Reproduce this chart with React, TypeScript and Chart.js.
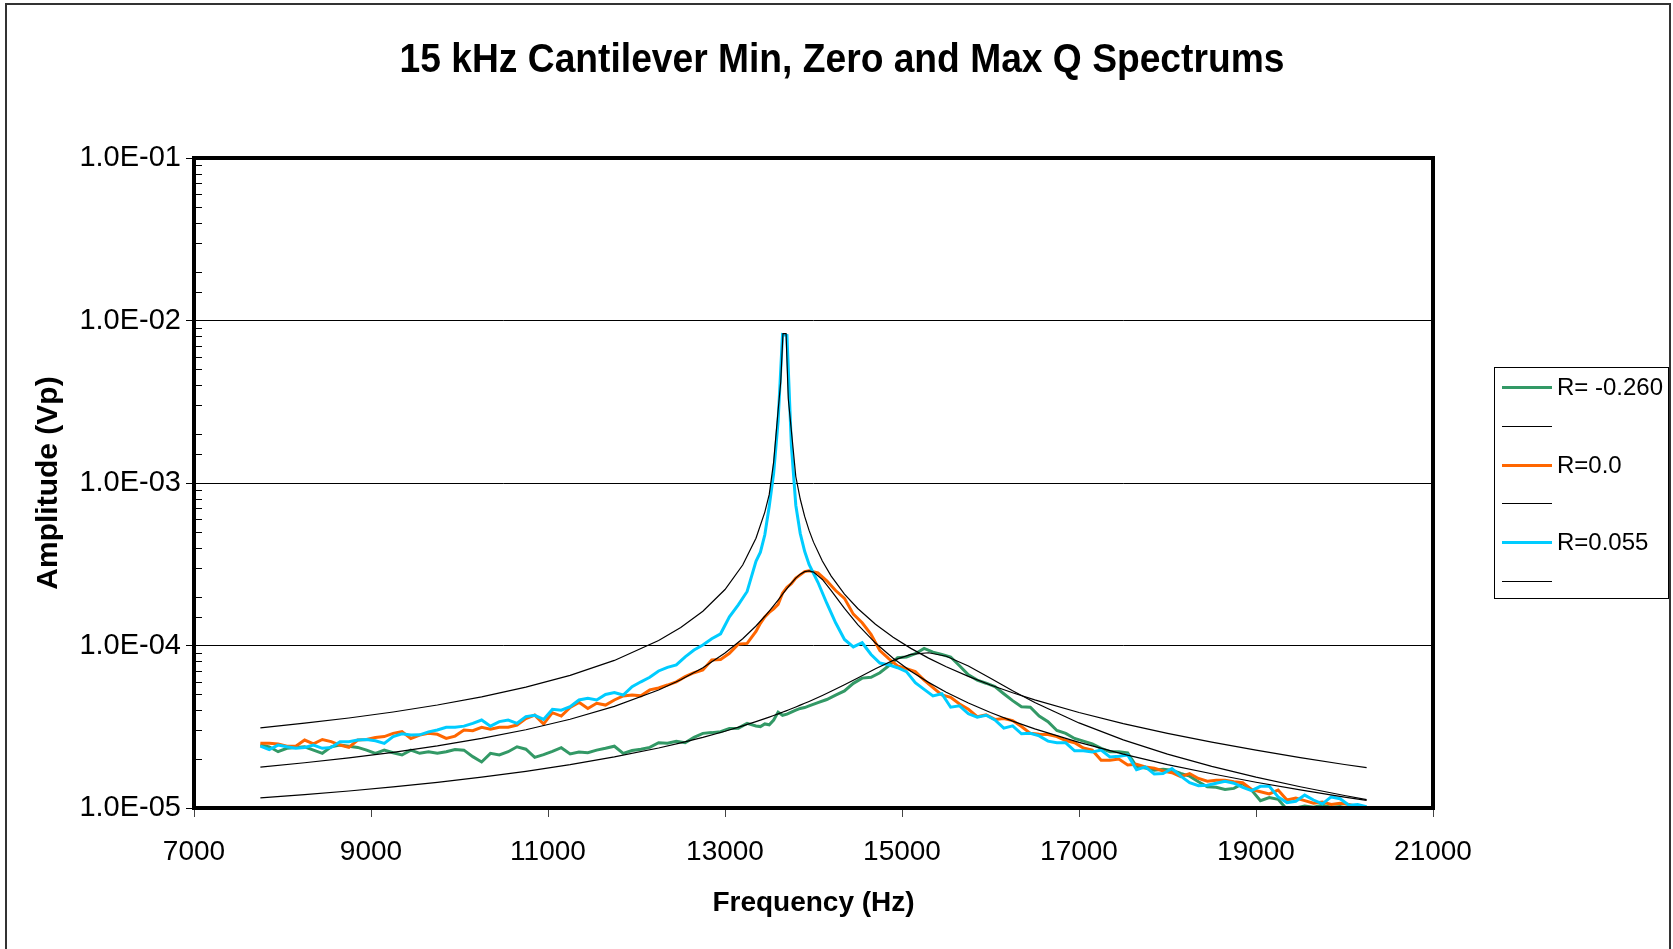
import React, { useEffect, useRef } from 'react';
import { Chart, registerables } from 'chart.js';

Chart.register(...registerables);

const FONT_FAMILY = "'Liberation Sans', Arial, Helvetica, sans-serif";

// ---- text ----
const chartTitle = '15 kHz Cantilever Min, Zero and Max Q Spectrums';
const xAxisTitle = 'Frequency (Hz)';
const yAxisTitle = 'Amplitude (Vp)';
const yTickLabels = ['1.0E-05', '1.0E-04', '1.0E-03', '1.0E-02', '1.0E-01'];
const seriesLabels = ['R= -0.260', 'R=0.0', 'R=0.055'];
const seriesColors = ['#339966', '#FF6600', '#00CCFF'];
const fitColor = '#000000';

// amplitudes below are in units of 1e-5 Vp
const AMP_UNIT = 1e-5;

// ---- measured spectra ----
const freqHz = [
  7750, 7850, 7950, 8050, 8150, 8250, 8350, 8450, 8550, 8650,
  8750, 8850, 8950, 9050, 9150, 9250, 9350, 9450, 9550, 9650,
  9750, 9850, 9950, 10050, 10150, 10250, 10350, 10450, 10550, 10650,
  10750, 10850, 10950, 11050, 11150, 11250, 11350, 11450, 11550, 11650,
  11750, 11850, 11950, 12050, 12150, 12250, 12350, 12450, 12550, 12650,
  12750, 12850, 12950, 13050, 13150, 13250, 13350, 13400, 13450, 13500,
  13550, 13600, 13650, 13700, 13750, 13800, 13850, 13900, 13950, 14050,
  14150, 14250, 14350, 14450, 14550, 14650, 14750, 14850, 14950, 15050,
  15150, 15250, 15350, 15450, 15550, 15650, 15750, 15850, 15950, 16050,
  16150, 16250, 16350, 16450, 16550, 16650, 16750, 16850, 16950, 17050,
  17150, 17250, 17350, 17450, 17550, 17650, 17750, 17850, 17950, 18050,
  18150, 18250, 18350, 18450, 18550, 18650, 18750, 18850, 18950, 19050,
  19150, 19250, 19350, 19450, 19550, 19650, 19750, 19850, 19950, 20050,
  20150, 20250,
];

const ampMinQ = [
  2.44, 2.38, 2.22, 2.33, 2.36, 2.38, 2.27, 2.17, 2.38, 2.44,
  2.40, 2.36, 2.27, 2.17, 2.27, 2.19, 2.12, 2.27, 2.17, 2.22,
  2.17, 2.22, 2.29, 2.27, 2.07, 1.92, 2.17, 2.12, 2.22, 2.38,
  2.30, 2.05, 2.13, 2.23, 2.35, 2.15, 2.21, 2.19, 2.27, 2.33,
  2.40, 2.17, 2.26, 2.30, 2.36, 2.52, 2.50, 2.57, 2.52, 2.72,
  2.88, 2.91, 2.95, 3.08, 3.10, 3.32, 3.20, 3.17, 3.29, 3.25,
  3.48, 3.89, 3.72, 3.78, 3.89, 4.00, 4.10, 4.15, 4.25, 4.45,
  4.65, 4.95, 5.25, 5.85, 6.30, 6.37, 6.80, 7.50, 8.40, 8.50,
  8.90, 9.60, 9.10, 8.80, 8.50, 7.50, 6.60, 6.13, 5.86, 5.58,
  5.05, 4.58, 4.20, 4.17, 3.68, 3.40, 3.00, 2.88, 2.68, 2.58,
  2.48, 2.33, 2.22, 2.22, 2.18, 1.80, 1.76, 1.71, 1.73, 1.71,
  1.63, 1.57, 1.45, 1.35, 1.34, 1.30, 1.32, 1.41, 1.29, 1.11,
  1.16, 1.13, 0.98, 1.00, 1.03, 1.01, 1.04, 1.01, 1.02, 0.99,
  0.98, 0.97,
];

const ampZeroQ = [
  2.50, 2.50, 2.48, 2.40, 2.40, 2.62, 2.48, 2.64, 2.56, 2.44,
  2.36, 2.62, 2.64, 2.72, 2.75, 2.88, 2.95, 2.68, 2.81, 2.88,
  2.84, 2.68, 2.77, 3.02, 2.99, 3.14, 3.05, 3.14, 3.14, 3.24,
  3.55, 3.73, 3.29, 3.86, 3.68, 4.16, 4.47, 4.10, 4.41, 4.30,
  4.62, 4.89, 4.96, 4.90, 5.33, 5.48, 5.71, 5.98, 6.43, 6.80,
  7.07, 8.14, 8.20, 8.95, 10.2, 10.3, 12.2, 13.7, 15.0, 16.0,
  16.8, 17.9, 21.0, 22.8, 24.0, 26.0, 27.2, 28.5, 28.8, 28.0,
  25.0, 21.8, 19.5, 15.6, 13.8, 11.7, 9.3, 8.3, 7.5, 7.2,
  6.9, 6.13, 5.5, 4.97, 4.8, 4.37, 4.05, 3.65, 3.75, 3.51,
  3.55, 3.45, 3.17, 2.88, 2.84, 2.83, 2.75, 2.60, 2.52, 2.34,
  2.27, 1.97, 1.97, 2.00, 1.84, 1.86, 1.79, 1.76, 1.69, 1.65,
  1.56, 1.63, 1.52, 1.46, 1.48, 1.48, 1.45, 1.43, 1.30, 1.26,
  1.22, 1.29, 1.12, 1.15, 1.11, 1.07, 1.09, 1.05, 1.07, 1.05,
  1.02, 1.01,
];

const ampMaxQ = [
  2.40, 2.29, 2.44, 2.38, 2.33, 2.36, 2.44, 2.33, 2.36, 2.56,
  2.56, 2.62, 2.64, 2.59, 2.50, 2.75, 2.86, 2.81, 2.82, 2.94,
  3.02, 3.14, 3.14, 3.19, 3.32, 3.48, 3.19, 3.40, 3.48, 3.32,
  3.65, 3.72, 3.51, 4.05, 4.00, 4.20, 4.62, 4.73, 4.62, 5.00,
  5.13, 4.96, 5.58, 5.98, 6.37, 6.97, 7.34, 7.60, 8.52, 9.38,
  10.07, 11.0, 11.8, 15.0, 17.8, 21.5, 33, 37.5, 48, 72,
  115, 240, 820, 810, 170, 73, 49, 38, 31.5, 24.5,
  18.2, 13.8, 10.9, 9.8, 10.4, 8.8, 7.8, 7.6, 7.3, 6.9,
  5.9, 5.37, 4.9, 5.05, 4.17, 4.25, 3.80, 3.62, 3.72, 3.48,
  3.10, 3.20, 2.86, 2.88, 2.78, 2.58, 2.52, 2.52, 2.25, 2.25,
  2.21, 2.27, 2.06, 2.08, 2.12, 1.72, 1.79, 1.62, 1.63, 1.75,
  1.57, 1.43, 1.37, 1.38, 1.42, 1.46, 1.42, 1.34, 1.28, 1.36,
  1.36, 1.17, 1.08, 1.10, 1.20, 1.12, 1.06, 1.17, 1.14, 1.04,
  1.05, 1.02,
];

// ---- fitted curves ----
const fitFreqHz = [
  7750, 8250, 8750, 9250, 9750, 10250, 10750, 11250, 11750, 12250,
  12500, 12750, 13000, 13200, 13350, 13450, 13500, 13550, 13600, 13630,
  13655, 13690, 13715, 13750, 13800, 13850, 13900, 13950, 14000, 14100,
  14200, 14350, 14500, 14700, 14900, 15100, 15300, 15500, 15750, 16000,
  16250, 16500, 17000, 17500, 18000, 18500, 19000, 19500, 20000, 20250,
];

const fitMinQ = [
  1.153, 1.208, 1.272, 1.348, 1.439, 1.548, 1.682, 1.849, 2.062, 2.341,
  2.516, 2.721, 2.967, 3.199, 3.399, 3.547, 3.627, 3.710, 3.796, 3.850,
  3.896, 3.962, 4.011, 4.080, 4.184, 4.293, 4.408, 4.527, 4.654, 4.925,
  5.226, 5.733, 6.312, 7.187, 8.096, 8.809, 9.022, 8.590, 7.484, 6.286,
  5.264, 4.459, 3.338, 2.628, 2.147, 1.804, 1.548, 1.351, 1.194, 1.127,
];

const fitZeroQ = [
  1.786, 1.898, 2.035, 2.202, 2.411, 2.679, 3.031, 3.516, 4.219, 5.326,
  6.153, 7.298, 8.984, 11.01, 13.19, 15.13, 16.29, 17.59, 19.05, 20.00,
  20.83, 22.05, 22.96, 24.23, 25.99, 27.49, 28.49, 28.78, 28.29, 25.49,
  21.78, 16.92, 13.43, 10.35, 8.34, 6.946, 5.930, 5.161, 4.428, 3.869,
  3.427, 3.071, 2.532, 2.144, 1.851, 1.624, 1.441, 1.292, 1.168, 1.114,
];

const fitMaxQ = [
  3.115, 3.325, 3.581, 3.899, 4.302, 4.828, 5.539, 6.550, 8.093, 10.73,
  12.90, 16.25, 22.10, 31.28, 45.68, 66.2, 85.1, 135, 280, 420,
  830, 830, 330, 210, 109.6, 79.7, 62.3, 51.07, 43.26, 33.08,
  26.74, 20.73, 16.89, 13.52, 11.24, 9.60, 8.365, 7.40, 6.455, 5.714,
  5.117, 4.626, 3.868, 3.309, 2.880, 2.542, 2.268, 2.043, 1.853, 1.770,
];

const isPow10 = (v: number) => {
  const l = Math.log10(v);
  return Math.abs(l - Math.round(l)) < 1e-6;
};

const toPoints = (xs: number[], ys: number[]) => xs.map((x, i) => ({ x, y: ys[i] * AMP_UNIT }));

const decorPlugin = {
  id: 'decor',
  beforeDraw(chart: any) {
    const { ctx } = chart;
    ctx.save();
    ctx.fillStyle = '#ffffff';
    ctx.fillRect(0, 0, chart.width, chart.height);
    ctx.strokeStyle = '#333333';
    ctx.lineWidth = 2;
    ctx.strokeRect(6, 4, chart.width - 9, chart.height + 20);
    // chart title (slightly condensed bold face, as in the original)
    ctx.fillStyle = '#000';
    ctx.font = `bold 40px ${FONT_FAMILY}`;
    ctx.textAlign = 'center';
    ctx.textBaseline = 'alphabetic';
    ctx.translate(842, 72);
    ctx.scale(0.93, 1);
    ctx.fillText(chartTitle, 0, 0);
    ctx.restore();
  },
  afterDatasetsDraw(chart: any) {
    const { ctx, chartArea: a, scales } = chart;
    const ys = scales.y;
    ctx.save();
    ctx.strokeStyle = '#000';
    ctx.lineWidth = 1;
    ys.ticks.forEach((t: any) => {
      if (isPow10(t.value)) return;
      const py = Math.round(ys.getPixelForValue(t.value)) + 0.5;
      ctx.beginPath();
      ctx.moveTo(a.left, py);
      ctx.lineTo(a.left + 8, py);
      ctx.stroke();
    });
    ctx.lineWidth = 4;
    ctx.strokeRect(a.left, a.top, a.right - a.left, a.bottom - a.top);
    ctx.restore();
  },
  afterDraw(chart: any) {
    const { ctx } = chart;
    const boxX = 1494.5;
    const boxY = 367.5;
    const boxW = 174;
    const boxH = 231;
    ctx.save();
    ctx.strokeStyle = '#000';
    ctx.lineWidth = 1;
    ctx.strokeRect(boxX, boxY, boxW, boxH);
    ctx.font = `24px ${FONT_FAMILY}`;
    ctx.textBaseline = 'middle';
    ctx.textAlign = 'left';
    ctx.fillStyle = '#000';
    chart.data.datasets.forEach((ds: any, i: number) => {
      const cy = Math.round(387 + i * 38.8) + 0.5;
      ctx.strokeStyle = ds.borderColor;
      ctx.lineWidth = ds.legendLineWidth;
      ctx.beginPath();
      ctx.moveTo(1502, cy);
      ctx.lineTo(1552, cy);
      ctx.stroke();
      if (ds.label) ctx.fillText(ds.label, 1557, cy + 1);
    });
    ctx.restore();
  },
};

export default function App() {
  const canvasRef = useRef<HTMLCanvasElement>(null);

  useEffect(() => {
    const canvas = canvasRef.current;
    if (!canvas) return;
    Chart.defaults.font.family = FONT_FAMILY;
    Chart.defaults.color = '#000';

    const base = { pointRadius: 0, pointHoverRadius: 0, fill: false, tension: 0 };
    const datasets = [
      { ...base, label: seriesLabels[0], data: toPoints(freqHz, ampMinQ), borderColor: seriesColors[0], backgroundColor: seriesColors[0], borderWidth: 3, legendLineWidth: 3, order: 3 },
      { ...base, label: '', data: toPoints(fitFreqHz, fitMinQ), borderColor: fitColor, backgroundColor: fitColor, borderWidth: 1.2, legendLineWidth: 1, order: 0 },
      { ...base, label: seriesLabels[1], data: toPoints(freqHz, ampZeroQ), borderColor: seriesColors[1], backgroundColor: seriesColors[1], borderWidth: 3, legendLineWidth: 3, order: 2 },
      { ...base, label: '', data: toPoints(fitFreqHz, fitZeroQ), borderColor: fitColor, backgroundColor: fitColor, borderWidth: 1.2, legendLineWidth: 1, order: 0 },
      { ...base, label: seriesLabels[2], data: toPoints(freqHz, ampMaxQ), borderColor: seriesColors[2], backgroundColor: seriesColors[2], borderWidth: 3, legendLineWidth: 3, order: 1 },
      { ...base, label: '', data: toPoints(fitFreqHz, fitMaxQ), borderColor: fitColor, backgroundColor: fitColor, borderWidth: 1.2, legendLineWidth: 1, order: 0 },
    ];

    const chart = new Chart(canvas, {
      type: 'line',
      data: { datasets } as any,
      options: {
        responsive: false,
        animation: false,
        devicePixelRatio: 1,
        events: [],
        layout: { padding: { left: 0, right: 240, top: 158, bottom: 0 } },
        plugins: {
          legend: { display: false },
          tooltip: { enabled: false },
          title: { display: false },
        },
        scales: {
          x: {
            type: 'linear',
            min: 7000,
            max: 21000,
            afterFit: (s: any) => { s.height = 141; },
            border: { display: false },
            grid: { drawOnChartArea: false, tickLength: 9, tickColor: '#444', lineWidth: 1 },
            ticks: {
              stepSize: 2000,
              autoSkip: false,
              maxRotation: 0,
              padding: 18,
              color: '#000',
              font: { family: FONT_FAMILY, size: 28 },
              callback: (v: any) => String(v),
            },
            title: {
              display: true,
              text: xAxisTitle,
              color: '#000',
              font: { family: FONT_FAMILY, size: 28, weight: 'bold' },
              padding: { top: 0, bottom: 29 },
            },
          },
          y: {
            type: 'logarithmic',
            min: 1e-5,
            max: 1e-1,
            afterFit: (s: any) => { s.width = 194; },
            border: { display: false },
            grid: {
              lineWidth: 1,
              tickLength: 8,
              color: (c: any) => (c.tick && isPow10(c.tick.value) ? '#000' : 'rgba(0,0,0,0)'),
              tickColor: (c: any) => (c.tick && isPow10(c.tick.value) ? '#000' : 'rgba(0,0,0,0)'),
            },
            ticks: {
              autoSkip: false,
              padding: 5,
              color: '#000',
              font: { family: FONT_FAMILY, size: 29 },
              callback: (value: any) => {
                const v = Number(value);
                if (!isPow10(v)) return '';
                const e = Math.round(Math.log10(v));
                return yTickLabels[e + 5] ?? '';
              },
            },
            title: {
              display: true,
              text: yAxisTitle,
              color: '#000',
              font: { family: FONT_FAMILY, size: 30, weight: 'bold' },
              padding: { top: 31, bottom: 0 },
            },
          },
        },
      } as any,
      plugins: [decorPlugin],
    });

    return () => chart.destroy();
  }, []);

  return (
    <div style={{ position: 'absolute', left: 0, top: 0, width: 1673, height: 949, background: '#fff' }}>
      <canvas ref={canvasRef} width={1673} height={949} style={{ display: 'block', width: 1673, height: 949 }} />
    </div>
  );
}
